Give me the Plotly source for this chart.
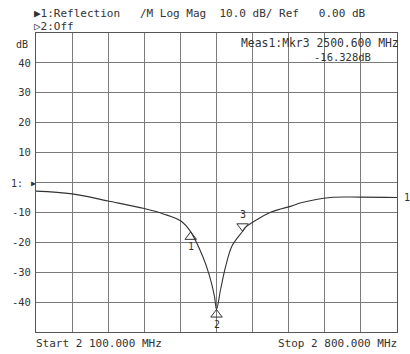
import plotly.graph_objects as go

# ---- data ----
freq_mhz = [2100, 2170, 2240, 2310, 2347, 2381, 2400, 2423, 2436, 2446, 2450,
            2458, 2468, 2480, 2500.6, 2506, 2556, 2595, 2614, 2671, 2730, 2800]
refl_db = [-2.9, -3.8, -6.2, -8.7, -10.5, -12.9, -16.5, -24.6, -31.0, -38.0, -42.5,
           -35.7, -27.9, -21.2, -16.3, -15.0, -9.9, -7.9, -6.8, -5.0, -4.9, -5.0]
mkr_names = ["1", "2", "3"]
mkr_freq = [2400, 2450, 2500.6]
mkr_db = [-16.5, -42.5, -16.328]
mkr_dir = ["up", "up", "down"]
ytick_vals = [40, 30, 20, 10, 0, -10, -20, -30, -40]
ytick_text = ["40", "30", "20", "10", "", "-10", "-20", "-30", "-40"]

W, H = 410, 354
L, R, T, B = 30, 12, 33, 22
PW, PH = W - L - R, H - T - B
FONT = "DejaVu Sans Mono"
TXT = "#333333"


def px(x):
    return (x - L) / PW


def py(y):
    return (H - B - y) / PH


fig = go.Figure()
fig.add_trace(go.Scatter(x=freq_mhz, y=refl_db, mode="lines",
                         line=dict(color="#333333", width=1.1, shape="spline", smoothing=1.0),
                         hoverinfo="skip", showlegend=False))

db_per_px = 100 / PH
for name, f, v, d in zip(mkr_names, mkr_freq, mkr_db, mkr_dir):
    off = 5 * db_per_px
    yc = v - off if d == "up" else v + off
    fig.add_trace(go.Scatter(x=[f], y=[yc], mode="markers",
                             marker=dict(symbol="triangle-%s-open" % d, size=10,
                                         color="#333333", line=dict(width=1)),
                             hoverinfo="skip", showlegend=False))
    fig.add_annotation(x=f, y=v, xref="x", yref="y", text=name, showarrow=False,
                       yshift=-15 if d == "up" else 17,
                       font=dict(family=FONT, size=10, color=TXT))

# trace end label
fig.add_annotation(x=freq_mhz[-1], y=refl_db[-1], xref="x", yref="y", text="1",
                   showarrow=False, xshift=5, xanchor="left",
                   font=dict(family=FONT, size=10, color=TXT))

texts = [
    (26, 13, "▶1:Reflection   /M Log Mag  10.0 dB/ Ref   0.00 dB", "left", 11),
    (26, 26, "▷2:Off", "left", 11),
    (8, 45, "dB", "left", 10),
    (237, 43, "Meas1:Mkr3 2500.600 MHz", "left", 11.4),
    (374, 57, "-16.328dB", "right", 10.5),
    (2, 183, "1:", "left", 10),
    (28, 343, "Start 2 100.000 MHz", "left", 11),
    (400, 343, "Stop 2 800.000 MHz", "right", 11),
]
for x, y, t, anc, sz in texts:
    fig.add_annotation(x=px(x), y=py(y), xref="paper", yref="paper", text=t,
                       showarrow=False, xanchor=anc, yanchor="middle",
                       font=dict(family=FONT, size=sz, color=TXT))
fig.add_annotation(x=px(23), y=py(183), xref="paper", yref="paper", text="▶",
                   showarrow=False, xanchor="left", yanchor="middle",
                   font=dict(family=FONT, size=8, color=TXT))

fig.update_layout(
    width=W, height=H, margin=dict(l=L, r=R, t=T, b=B),
    paper_bgcolor="white", plot_bgcolor="white",
    xaxis=dict(range=[2100, 2800], dtick=70, tick0=2100, showticklabels=False,
               showgrid=True, gridcolor="#7a7a7a", gridwidth=1, zeroline=False,
               showline=True, linecolor="#555555", linewidth=1, mirror=True, ticks=""),
    yaxis=dict(range=[-50, 50], tickvals=ytick_vals, ticktext=ytick_text,
               showgrid=True, gridcolor="#7a7a7a", gridwidth=1, zeroline=False,
               showline=True, linecolor="#555555", linewidth=1, mirror=True, ticks="",
               ticklabelstandoff=2,
               tickfont=dict(family=FONT, size=10.5, color=TXT)),
)
fig.write_html("out.html")
